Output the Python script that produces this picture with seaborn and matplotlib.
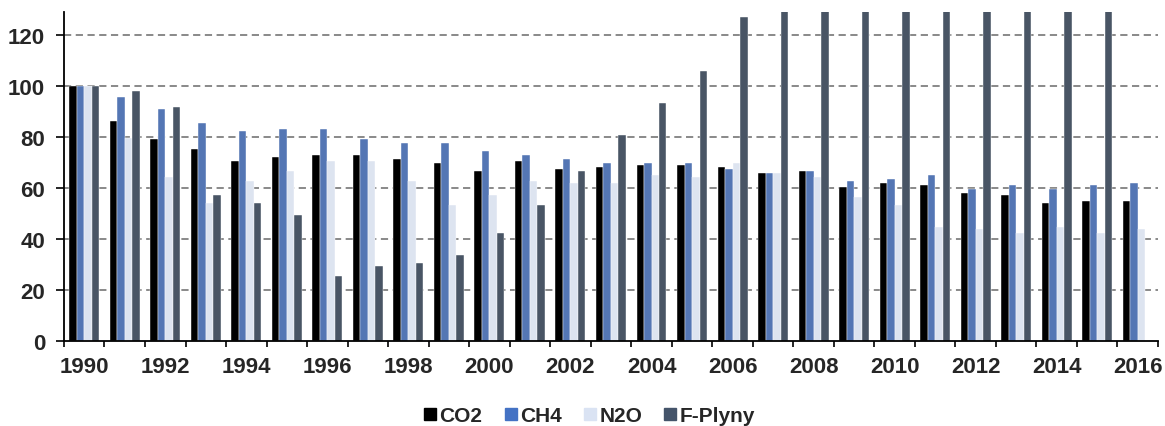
import numpy as np
import pandas as pd
import seaborn as sns
import matplotlib.pyplot as plt
from matplotlib.lines import Line2D
from matplotlib.ticker import FixedLocator

years = list(range(1990, 2017))
co2 = [100, 86.2, 79.2, 75.3, 70.6, 72.2, 73.0, 73.0, 71.4, 69.8,
       66.7, 70.6, 67.4, 68.2, 69.0, 69.0, 68.2, 65.9, 66.7, 60.5,
       61.9, 61.1, 58.0, 57.2, 54.2, 55.0, 55.0]
ch4 = [100, 95.7, 90.9, 85.4, 82.3, 83.1, 83.1, 79.2, 77.6, 77.6,
       74.4, 72.8, 71.3, 69.7, 69.7, 69.7, 67.4, 65.9, 66.7, 62.7,
       63.5, 65.1, 59.6, 61.1, 59.6, 61.1, 61.9]
n2o = [100, 79.6, 64.3, 54.2, 62.7, 66.7, 70.6, 70.6, 62.7, 53.4,
       57.2, 62.7, 61.9, 61.9, 65.1, 64.3, 69.8, 65.9, 64.3, 56.4,
       53.4, 44.7, 44.1, 42.5, 44.7, 42.5, 44.1]
f_gases = [100, 98.0, 91.7, 57.3, 54.2, 49.5, 25.3, 29.3, 30.7, 33.9,
           42.4, 53.4, 66.7, 80.8, 93.3, 105.9, 126.9, 150, 160, 170,
           185, 195, 205, 215, 225, 240, np.nan]
series = ['CO2', 'CH4', 'N2O', 'F-Plyny']
colors = ['#000000', '#4472C4', '#DAE3F3', '#44546A']

df = pd.DataFrame({'year': years, 'CO2': co2, 'CH4': ch4, 'N2O': n2o, 'F-Plyny': f_gases})
df = df.melt(id_vars='year', var_name='gas', value_name='val').dropna()
df['year'] = df['year'].astype(str)

sns.set_style('white')
plt.rcParams['font.family'] = ['Liberation Sans', 'DejaVu Sans']
plt.rcParams['font.weight'] = 'bold'

fig = plt.figure(figsize=(11.65, 4.27), dpi=100)
ax = fig.add_axes([0.0549, 0.199, 0.9391, 0.7706])

sns.barplot(ax=ax, data=df, x='year', y='val', hue='gas', hue_order=series,
            order=[str(y) for y in years], palette=colors, width=0.74,
            edgecolor='white', linewidth=0.3, legend=False, zorder=3)

ax.set_ylim(0, 129)
ax.set_xlim(-0.5, len(years) - 0.5)
ax.set_yticks(np.arange(0, 121, 20))
ax.set_yticklabels([str(v) for v in range(0, 121, 20)], fontsize=16, fontweight='bold')
ax.set_xticks(range(len(years)))
ax.set_xticklabels([str(y) if y % 2 == 0 else '' for y in years], fontsize=16, fontweight='bold')
ax.xaxis.set_minor_locator(FixedLocator(np.arange(-0.5, len(years), 1)))
ax.tick_params(axis='x', which='major', length=0, pad=11)
ax.tick_params(axis='x', which='minor', length=4.3, width=1.2, color='black', direction='out', bottom=True)
ax.tick_params(axis='y', length=5.5, width=1.2, color='black', direction='out', pad=8, left=True)
ax.set_xlabel('')
ax.set_ylabel('')

for v in range(20, 121, 20):
    ax.axhline(v, color='#808080', linewidth=1.3, linestyle=(0, (4, 2.5)), zorder=1)

for s in ['top', 'right']:
    ax.spines[s].set_visible(False)
for s in ['left', 'bottom']:
    ax.spines[s].set_color('black')
    ax.spines[s].set_linewidth(1.3)
    ax.spines[s].set_zorder(4)

handles = [Line2D([], [], marker='s', linestyle='', markersize=8, color=c,
                  markeredgecolor=c) for c in colors]
fig.legend(handles, series, loc='center', bbox_to_anchor=(0.506, 0.025), ncol=4,
           frameon=False, prop={'size': 15, 'weight': 'bold'},
           handlelength=0.6, handletextpad=0.15, columnspacing=1.05)

fig.savefig('out.png', dpi=100)
